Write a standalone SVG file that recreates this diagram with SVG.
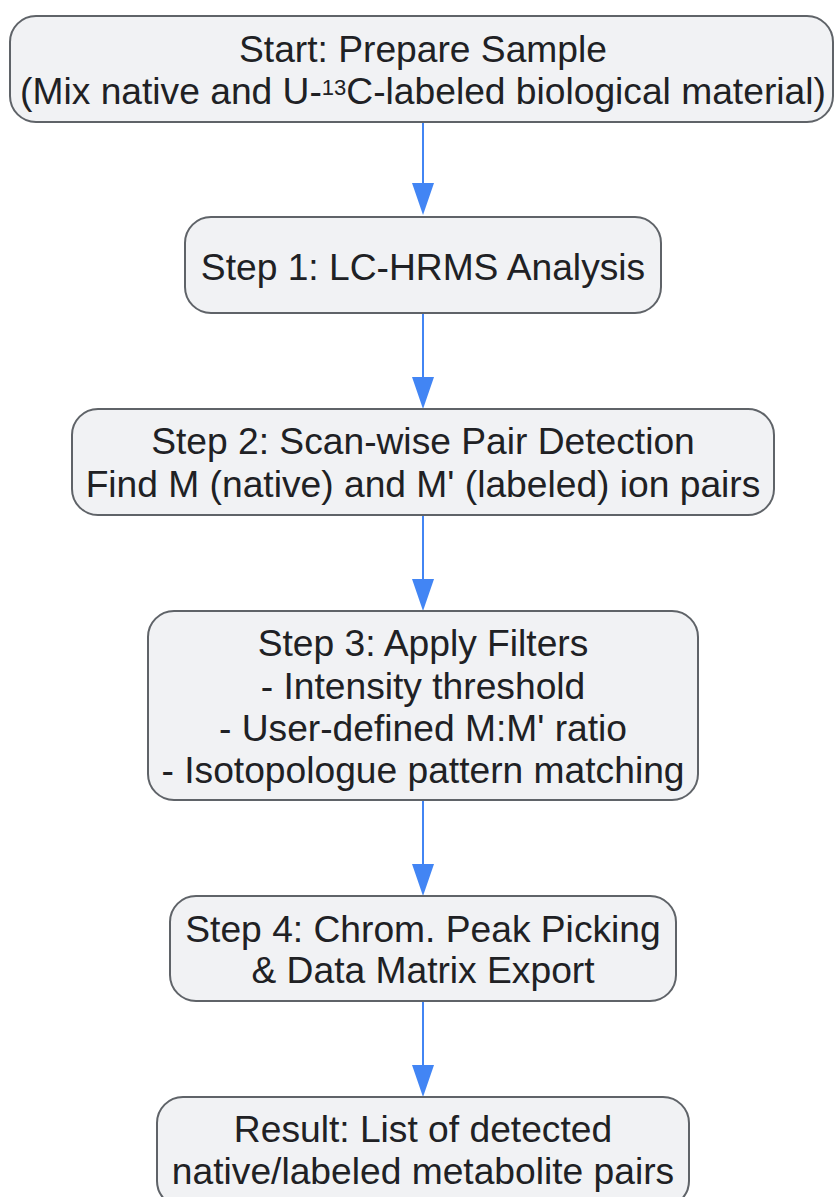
<svg xmlns="http://www.w3.org/2000/svg" width="835" height="1197" viewBox="0 0 835 1197">
<defs>
<style>
.n{fill:#f1f2f4;stroke:#5f6368;stroke-width:2}
.t{font-family:"Liberation Sans",Arial,sans-serif;font-size:37.2px;fill:#202124;text-anchor:middle}
.c{stroke:#4285f4;stroke-width:2;fill:none}
.a{fill:#4285f4}
</style>
</defs>
<rect width="835" height="1197" fill="#ffffff"/>
<g id="connectors">
<path class="c" d="M423,122 V184"/><path class="a" d="M412,183 L434,183 L423,215 Z"/>
<path class="c" d="M423,313 V378"/><path class="a" d="M412,377 L434,377 L423,409 Z"/>
<path class="c" d="M423,515 V580"/><path class="a" d="M412,579 L434,579 L423,611 Z"/>
<path class="c" d="M423,800 V865"/><path class="a" d="M412,864 L434,864 L423,896 Z"/>
<path class="c" d="M423,1001 V1066"/><path class="a" d="M412,1065 L434,1065 L423,1097 Z"/>
</g>
<g id="start">
<rect class="n" x="10" y="16" width="823" height="106" rx="26"/>
<text class="t" x="423" y="62">Start: Prepare Sample</text>
<text class="t" x="423" y="104">(Mix native and U-<tspan font-size="22" baseline-shift="40%">13</tspan>C-labeled biological material)</text>
</g>
<g id="step1">
<rect class="n" x="185" y="217" width="476" height="96" rx="26"/>
<text class="t" x="423" y="280">Step 1: LC-HRMS Analysis</text>
</g>
<g id="step2">
<rect class="n" x="72" y="409" width="702" height="106" rx="26"/>
<text class="t" x="423" y="454">Step 2: Scan-wise Pair Detection</text>
<text class="t" x="423" y="497">Find M (native) and M' (labeled) ion pairs</text>
</g>
<g id="step3">
<rect class="n" x="148" y="611" width="550" height="189" rx="26"/>
<text class="t" x="423" y="656">Step 3: Apply Filters</text>
<text class="t" x="423" y="699">- Intensity threshold</text>
<text class="t" x="423" y="741">- User-defined M:M' ratio</text>
<text class="t" x="423" y="783">- Isotopologue pattern matching</text>
</g>
<g id="step4">
<rect class="n" x="170" y="896" width="506" height="105" rx="26"/>
<text class="t" x="423" y="942">Step 4: Chrom. Peak Picking</text>
<text class="t" x="423" y="983">&amp; Data Matrix Export</text>
</g>
<g id="result">
<rect class="n" x="157" y="1097" width="532" height="110" rx="26"/>
<text class="t" x="423" y="1142">Result: List of detected</text>
<text class="t" x="423" y="1184">native/labeled metabolite pairs</text>
</g>
</svg>
